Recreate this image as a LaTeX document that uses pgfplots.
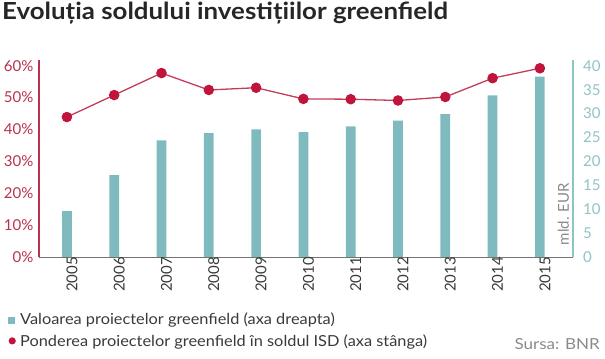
\documentclass[border=0pt]{standalone}
\usepackage{pgfplots}
\pgfplotsset{compat=1.18}
\usepackage{fontspec}
\setmainfont{Lato}
\definecolor{barc}{HTML}{7FBBBE}
\definecolor{dotc}{HTML}{C0143C}
\definecolor{linec}{HTML}{C43C5C}
\definecolor{leftc}{HTML}{B8324F}
\definecolor{rightc}{HTML}{8FC4C6}
\definecolor{txt}{HTML}{3A3A3A}
\definecolor{srcc}{HTML}{8A8A8A}
\newcommand{\tfont}{\fontsize{15bp}{17bp}\selectfont}
\newcommand{\lfont}{\fontsize{15.2bp}{17bp}\selectfont}
\begin{document}
\begin{tikzpicture}
\useasboundingbox (0,0) rectangle (605bp,359bp);
\node[anchor=base west, inner sep=0pt, text=black!85] at (2bp,339bp) {\scalebox{1.1}[1]{\fontsize{23.5bp}{26bp}\selectfont\bfseries Evoluția soldului investițiilor greenfield}};
\begin{axis}[
  at={(39bp,102bp)}, anchor=south west, scale only axis,
  width=534bp, height=197bp,
  xmin=-0.59, xmax=10.7, ymin=0, ymax=41.2,
  axis y line*=right, axis x line*=bottom,
  y axis line style={rightc, line width=1.5bp, -},
  x axis line style={black!55, line width=0.6bp, -},
  major tick length=0pt,
  ytick={0,5,...,40},
  yticklabel style={text=rightc, font=\tfont, anchor=west, inner sep=0pt, xshift=10bp},
  xtick={0,...,10},
  xticklabels={2005,2006,2007,2008,2009,2010,2011,2012,2013,2014,2015},
  xticklabel style={rotate=90, anchor=east, inner sep=0pt, yshift=-5bp, text=txt, font=\tfont},
  /pgf/number format/assume math mode=true,
  clip=false
]
\addplot[ybar, bar width=9.7bp, fill=barc, draw=none] coordinates {
 (0,9.6) (1,17.1) (2,24.4) (3,25.9) (4,26.7) (5,26.1) (6,27.3) (7,28.5) (8,29.9) (9,33.8) (10,37.7)};
\node[rotate=90, text=srcc, font=\tfont, inner sep=0pt] at (rel axis cs:0.982,0.218) {mld. EUR};
\end{axis}
\begin{axis}[
  at={(39bp,102bp)}, anchor=south west, scale only axis,
  width=534bp, height=197bp,
  xmin=-0.59, xmax=10.7, ymin=0, ymax=61.8,
  axis y line*=left, axis x line=none,
  y axis line style={leftc, line width=1.5bp, -},
  major tick length=0pt,
  ytick={0,10,...,60},
  yticklabel={\pgfmathprintnumber{\tick}\%},
  yticklabel style={text=leftc, font=\tfont, anchor=east, inner sep=0pt, xshift=-5.5bp},
  /pgf/number format/assume math mode=true,
  clip=false,
  legend style={at={(-0.0655,-0.278)}, anchor=north west, draw=none, fill=none,
    inner sep=0pt, row sep=6bp, font=\lfont, text=txt,
    nodes={inner xsep=0pt, inner ysep=1pt},
    cells={anchor=west}},
  legend cell align=left,
]
\addlegendimage{legend image code/.code={\path[draw=none,fill=none] (0bp,0bp) -- (16bp,0bp);\fill[barc,draw=none] (4bp,-4bp) rectangle (11bp,3bp);}}
\addlegendentry{\scalebox{1.075}[1]{Valoarea proiectelor greenfield (axa dreapta)}}
\addplot[linec, line width=1.3bp, mark=*, mark size=4.6bp, mark options={fill=dotc, draw=dotc},
  legend image code/.code={\path[draw=none,fill=none] (0bp,0bp) -- (16bp,0bp);\fill[dotc,draw=none] (8bp,0bp) circle (3.6bp);}] coordinates {
 (0,43.9) (1,50.8) (2,57.7) (3,52.4) (4,53.1) (5,49.6) (6,49.5) (7,49.1) (8,50.2) (9,56.1) (10,59.2)};
\addlegendentry{\scalebox{1.075}[1]{Ponderea proiectelor greenfield în soldul ISD (axa stânga)}}
\end{axis}
\node[anchor=base east, inner sep=0pt, text=srcc, font=\lfont] at (600bp,10bp) {\scalebox{1.12}[1]{Sursa: BNR}};
\end{tikzpicture}
\end{document}
